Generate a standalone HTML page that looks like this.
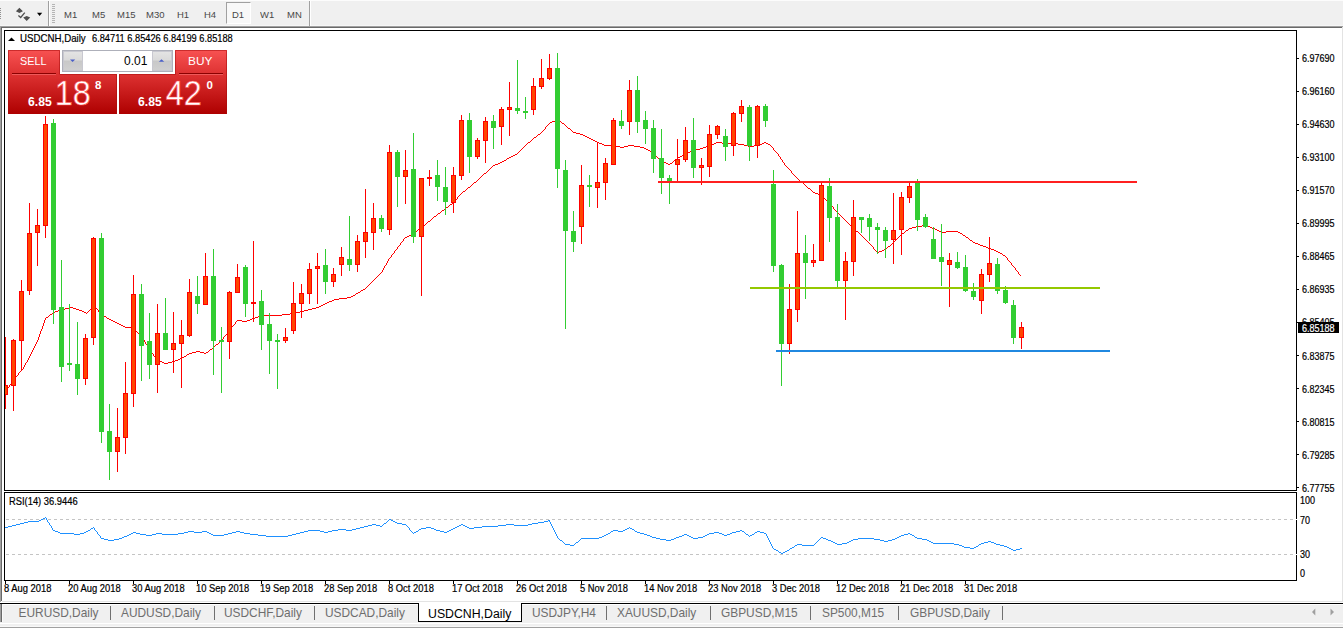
<!DOCTYPE html>
<html><head><meta charset="utf-8"><title>USDCNH,Daily</title>
<style>
html,body{margin:0;padding:0;background:#fff;}
body{width:1343px;height:629px;overflow:hidden;position:relative;font-family:"Liberation Sans",sans-serif;}
.a{position:absolute;white-space:nowrap;line-height:1;}
.tb{color:#484848;font-size:9.6px;top:9.9px;transform:scaleX(0.99);transform-origin:left top;}
.ax{font-size:10px;color:#000;-webkit-text-stroke:0.2px;left:1302px;transform:scaleX(0.9);transform-origin:left top;}
.dt{font-size:10px;color:#000;-webkit-text-stroke:0.2px;top:584.3px;transform:scaleX(0.937);transform-origin:left top;}
.tab{font-size:11.9px;color:#6e6e6e;top:608px;}
.sep{position:absolute;top:606px;width:1px;height:14px;background:#707070;}
svg{position:absolute;left:0;top:0;}
</style></head><body>

<div class="a" style="left:0;top:0;width:1343px;height:26px;background:#f0f0f0;"></div>
<div class="a" style="left:0;top:0;width:1343px;height:1px;background:#fcfcfc;"></div>
<div class="a" style="left:0;top:25px;width:1343px;height:1px;background:#f6f6f6;"></div>
<div class="a" style="left:0;top:26px;width:1343px;height:1px;background:#a0a0a0;"></div>
<div class="a" style="left:1px;top:27px;width:1341px;height:1px;background:#696969;"></div>
<div class="a" style="left:0;top:27px;width:1px;height:575px;background:#a0a0a0;"></div>
<div class="a" style="left:1px;top:27px;width:1px;height:574px;background:#696969;"></div>
<div class="a" style="left:1342px;top:27px;width:1px;height:575px;background:#e3e3e3;"></div>
<div class="a" style="left:2px;top:601px;width:1341px;height:1px;background:#e3e3e3;"></div>
<div class="a" style="left:0;top:602px;width:1343px;height:1px;background:#fff;"></div>
<div class="a" style="left:0;top:603px;width:1343px;height:1px;background:#000;"></div>
<div class="a" style="left:0;top:604px;width:1343px;height:1px;background:#fff;"></div>
<div class="a" style="left:0;top:605px;width:1343px;height:18px;background:#f0f0f0;"></div>
<div class="a" style="left:0;top:604px;width:1px;height:18px;background:#a0a0a0;"></div>
<div class="a" style="left:1px;top:604px;width:1px;height:18px;background:#696969;"></div>
<div class="a" style="left:2px;top:604px;width:1px;height:18px;background:#fafafa;"></div>
<div class="a" style="left:0;top:623px;width:1343px;height:1px;background:#fff;"></div>
<div class="a" style="left:0;top:624px;width:1343px;height:2px;background:#f0f0f0;"></div>
<div class="a" style="left:0;top:626px;width:1343px;height:1px;background:#f8f8f8;"></div>
<div class="a" style="left:0;top:627px;width:1343px;height:1px;background:#a0a0a0;"></div>
<div class="a" style="left:0;top:628px;width:1343px;height:1px;background:#fff;"></div>
<div class="a" style="left:418px;top:603px;width:102px;height:18px;background:#fff;border:1px solid #000;border-top:none;"></div>
<div class="a tab" style="left:18.6px;">EURUSD,Daily</div>
<div class="a tab" style="left:121px;">AUDUSD,Daily</div>
<div class="a tab" style="left:224px;">USDCHF,Daily</div>
<div class="a tab" style="left:325px;">USDCAD,Daily</div>
<div class="a tab" style="left:532px;">USDJPY,H4</div>
<div class="a tab" style="left:617px;">XAUUSD,Daily</div>
<div class="a tab" style="left:721px;">GBPUSD,M15</div>
<div class="a tab" style="left:822px;">SP500,M15</div>
<div class="a tab" style="left:910px;">GBPUSD,Daily</div>
<div class="a tab" style="left:428px;color:#000;font-size:12.3px;">USDCNH,Daily</div>
<div class="sep" style="left:110px;"></div>
<div class="sep" style="left:214px;"></div>
<div class="sep" style="left:314px;"></div>
<div class="sep" style="left:606px;"></div>
<div class="sep" style="left:710px;"></div>
<div class="sep" style="left:810px;"></div>
<div class="sep" style="left:898px;"></div>
<div class="sep" style="left:1002px;"></div>
<div class="a" style="left:226px;top:2px;width:25px;height:22px;border:1px solid #a0a0a0;border-right-color:#fff;border-bottom-color:#fff;background:#f8f8f8;box-sizing:border-box;"></div>
<div class="a tb" style="left:63.7px;">M1</div>
<div class="a tb" style="left:91.6px;">M5</div>
<div class="a tb" style="left:117.4px;">M15</div>
<div class="a tb" style="left:145.5px;">M30</div>
<div class="a tb" style="left:176.7px;">H1</div>
<div class="a tb" style="left:203.8px;">H4</div>
<div class="a tb" style="left:232.4px;">D1</div>
<div class="a tb" style="left:259.7px;">W1</div>
<div class="a tb" style="left:286.8px;">MN</div>
<div class="a ax" style="top:54.2px;">6.97690</div>
<div class="a ax" style="top:87.2px;">6.96160</div>
<div class="a ax" style="top:120.3px;">6.94630</div>
<div class="a ax" style="top:153.3px;">6.93100</div>
<div class="a ax" style="top:186.3px;">6.91570</div>
<div class="a ax" style="top:219.3px;">6.89995</div>
<div class="a ax" style="top:252.4px;">6.88465</div>
<div class="a ax" style="top:285.4px;">6.86935</div>
<div class="a ax" style="top:318.4px;">6.85405</div>
<div class="a ax" style="top:351.5px;">6.83875</div>
<div class="a ax" style="top:384.5px;">6.82345</div>
<div class="a ax" style="top:417.5px;">6.80815</div>
<div class="a ax" style="top:450.6px;">6.79285</div>
<div class="a ax" style="top:483.6px;">6.77755</div>
<div class="a" style="left:1298px;top:322px;width:41px;height:11px;background:#000;"></div>
<div class="a ax" style="top:323.7px;color:#fff;">6.85188</div>
<div class="a ax" style="left:1300px;top:495.6px;">100</div>
<div class="a ax" style="left:1300px;top:515.6px;">70</div>
<div class="a ax" style="left:1300px;top:550.2px;">30</div>
<div class="a ax" style="left:1300px;top:569.4px;">0</div>
<div class="a dt" style="left:3.6px;">8 Aug 2018</div>
<div class="a dt" style="left:67.6px;">20 Aug 2018</div>
<div class="a dt" style="left:131.6px;">30 Aug 2018</div>
<div class="a dt" style="left:195.6px;">10 Sep 2018</div>
<div class="a dt" style="left:259.6px;">19 Sep 2018</div>
<div class="a dt" style="left:323.6px;">28 Sep 2018</div>
<div class="a dt" style="left:387.6px;">8 Oct 2018</div>
<div class="a dt" style="left:451.6px;">17 Oct 2018</div>
<div class="a dt" style="left:515.6px;">26 Oct 2018</div>
<div class="a dt" style="left:579.6px;">5 Nov 2018</div>
<div class="a dt" style="left:643.6px;">14 Nov 2018</div>
<div class="a dt" style="left:707.6px;">23 Nov 2018</div>
<div class="a dt" style="left:771.6px;">3 Dec 2018</div>
<div class="a dt" style="left:835.6px;">12 Dec 2018</div>
<div class="a dt" style="left:899.6px;">21 Dec 2018</div>
<div class="a dt" style="left:963.6px;">31 Dec 2018</div>
<div class="a" style="left:19.9px;top:33.2px;font-size:10.6px;color:#000;transform:scaleX(0.915);transform-origin:left top;-webkit-text-stroke:0.2px #000;">USDCNH,Daily</div>
<div class="a" style="left:91.9px;top:34.1px;font-size:10px;color:#000;-webkit-text-stroke:0.2px #000;transform:scaleX(0.925);transform-origin:left top;">6.84711 6.85426 6.84199 6.85188</div>
<div class="a" style="left:9px;top:496.6px;font-size:10px;color:#000;-webkit-text-stroke:0.2px;transform:scaleX(0.935);transform-origin:left top;">RSI(14) 36.9446</div>
<svg width="1343" height="629" viewBox="0 0 1343 629">
<defs><linearGradient id="rg" gradientUnits="userSpaceOnUse" x1="0" y1="50" x2="0" y2="114"><stop offset="0" stop-color="#f85252"/><stop offset="0.4" stop-color="#dc3030"/><stop offset="1" stop-color="#ae0000"/></linearGradient>
<linearGradient id="gg" x1="0" y1="0" x2="0" y2="1"><stop offset="0" stop-color="#e4e4e4"/><stop offset="0.45" stop-color="#dadada"/><stop offset="0.5" stop-color="#c8c8c8"/><stop offset="1" stop-color="#d0d0d0"/></linearGradient></defs>
<g shape-rendering="crispEdges">
<rect x="4" y="30" width="1293" height="1" fill="#000"/>
<rect x="4" y="30" width="1" height="461" fill="#000"/>
<rect x="1296" y="30" width="1" height="461" fill="#000"/>
<rect x="4" y="490" width="1293" height="1" fill="#000"/>
<rect x="4" y="492" width="1293" height="1" fill="#000"/>
<rect x="4" y="492" width="1" height="89" fill="#000"/>
<rect x="1296" y="492" width="1" height="89" fill="#000"/>
<rect x="4" y="580" width="1293" height="1" fill="#000"/>
<rect x="1296" y="519" width="1" height="1" fill="#fff"/>
<rect x="1296" y="554" width="1" height="1" fill="#fff"/>
<rect x="1297" y="58" width="2" height="1" fill="#000"/>
<rect x="1297" y="91" width="2" height="1" fill="#000"/>
<rect x="1297" y="124" width="2" height="1" fill="#000"/>
<rect x="1297" y="157" width="2" height="1" fill="#000"/>
<rect x="1297" y="190" width="2" height="1" fill="#000"/>
<rect x="1297" y="223" width="2" height="1" fill="#000"/>
<rect x="1297" y="256" width="2" height="1" fill="#000"/>
<rect x="1297" y="289" width="2" height="1" fill="#000"/>
<rect x="1297" y="322" width="2" height="1" fill="#000"/>
<rect x="1297" y="355" width="2" height="1" fill="#000"/>
<rect x="1297" y="388" width="2" height="1" fill="#000"/>
<rect x="1297" y="421" width="2" height="1" fill="#000"/>
<rect x="1297" y="454" width="2" height="1" fill="#000"/>
<rect x="1297" y="487" width="2" height="1" fill="#000"/>
<rect x="1297" y="322" width="2" height="1" fill="#000"/>
<rect x="5" y="581" width="1" height="3" fill="#000"/>
<rect x="69" y="581" width="1" height="3" fill="#000"/>
<rect x="133" y="581" width="1" height="3" fill="#000"/>
<rect x="197" y="581" width="1" height="3" fill="#000"/>
<rect x="261" y="581" width="1" height="3" fill="#000"/>
<rect x="325" y="581" width="1" height="3" fill="#000"/>
<rect x="389" y="581" width="1" height="3" fill="#000"/>
<rect x="453" y="581" width="1" height="3" fill="#000"/>
<rect x="517" y="581" width="1" height="3" fill="#000"/>
<rect x="581" y="581" width="1" height="3" fill="#000"/>
<rect x="645" y="581" width="1" height="3" fill="#000"/>
<rect x="709" y="581" width="1" height="3" fill="#000"/>
<rect x="773" y="581" width="1" height="3" fill="#000"/>
<rect x="837" y="581" width="1" height="3" fill="#000"/>
<rect x="901" y="581" width="1" height="3" fill="#000"/>
<rect x="965" y="581" width="1" height="3" fill="#000"/>
<line x1="6" y1="519.5" x2="1296" y2="519.5" stroke="#c4c4c4" stroke-width="1" stroke-dasharray="3,3"/>
<line x1="6" y1="554.5" x2="1296" y2="554.5" stroke="#c4c4c4" stroke-width="1" stroke-dasharray="3,3"/>
<path d="M552 121h9v1h-9zM550 122h2v1h-2zM561 122h1v1h-1zM549 123h1v1h-1zM562 123h2v1h-2zM548 124h1v1h-1zM564 124h1v1h-1zM547 125h1v1h-1zM565 125h1v1h-1zM546 126h1v1h-1zM566 126h1v1h-1zM545 127h1v1h-1zM567 127h1v1h-1zM545 128h1v1h-1zM568 128h2v1h-2zM544 129h1v1h-1zM570 129h1v1h-1zM543 130h1v1h-1zM571 130h1v1h-1zM542 131h1v1h-1zM572 131h1v1h-1zM541 132h1v1h-1zM573 132h3v1h-3zM540 133h1v1h-1zM576 133h4v1h-4zM538 134h2v1h-2zM580 134h3v1h-3zM537 135h1v1h-1zM583 135h2v1h-2zM536 136h1v1h-1zM585 136h2v1h-2zM534 137h2v1h-2zM587 137h2v1h-2zM533 138h1v1h-1zM589 138h2v1h-2zM532 139h1v1h-1zM591 139h2v1h-2zM531 140h1v1h-1zM593 140h2v1h-2zM530 141h1v1h-1zM595 141h2v1h-2zM528 142h2v1h-2zM597 142h2v1h-2zM716 142h6v1h-6zM764 142h2v1h-2zM527 143h1v1h-1zM599 143h3v1h-3zM714 143h2v1h-2zM722 143h16v1h-16zM762 143h2v1h-2zM766 143h2v1h-2zM526 144h1v1h-1zM602 144h2v1h-2zM711 144h3v1h-3zM738 144h6v1h-6zM759 144h3v1h-3zM768 144h2v1h-2zM525 145h1v1h-1zM604 145h12v1h-12zM628 145h6v1h-6zM708 145h3v1h-3zM744 145h4v1h-4zM754 145h5v1h-5zM770 145h1v1h-1zM524 146h1v1h-1zM616 146h4v1h-4zM624 146h4v1h-4zM634 146h6v1h-6zM706 146h2v1h-2zM748 146h6v1h-6zM771 146h1v1h-1zM523 147h1v1h-1zM620 147h4v1h-4zM640 147h4v1h-4zM703 147h3v1h-3zM772 147h1v1h-1zM522 148h1v1h-1zM644 148h2v1h-2zM700 148h3v1h-3zM773 148h1v1h-1zM521 149h1v1h-1zM646 149h2v1h-2zM696 149h4v1h-4zM773 149h1v1h-1zM520 150h1v1h-1zM648 150h2v1h-2zM692 150h4v1h-4zM774 150h1v1h-1zM519 151h1v1h-1zM650 151h1v1h-1zM690 151h2v1h-2zM775 151h1v1h-1zM518 152h1v1h-1zM651 152h2v1h-2zM687 152h3v1h-3zM776 152h1v1h-1zM517 153h1v1h-1zM653 153h1v1h-1zM685 153h2v1h-2zM777 153h1v1h-1zM515 154h2v1h-2zM654 154h1v1h-1zM683 154h2v1h-2zM778 154h1v1h-1zM513 155h2v1h-2zM655 155h1v1h-1zM682 155h1v1h-1zM778 155h1v1h-1zM511 156h2v1h-2zM656 156h1v1h-1zM680 156h2v1h-2zM779 156h1v1h-1zM509 157h2v1h-2zM657 157h1v1h-1zM678 157h2v1h-2zM780 157h1v1h-1zM507 158h2v1h-2zM658 158h1v1h-1zM677 158h1v1h-1zM780 158h1v1h-1zM506 159h1v1h-1zM659 159h1v1h-1zM676 159h1v1h-1zM781 159h1v1h-1zM504 160h2v1h-2zM660 160h1v1h-1zM674 160h2v1h-2zM782 160h1v1h-1zM502 161h2v1h-2zM661 161h2v1h-2zM673 161h1v1h-1zM782 161h1v1h-1zM500 162h2v1h-2zM663 162h3v1h-3zM672 162h1v1h-1zM783 162h1v1h-1zM498 163h2v1h-2zM666 163h2v1h-2zM670 163h2v1h-2zM784 163h1v1h-1zM495 164h3v1h-3zM668 164h2v1h-2zM784 164h1v1h-1zM493 165h2v1h-2zM785 165h1v1h-1zM492 166h1v1h-1zM786 166h1v1h-1zM491 167h1v1h-1zM787 167h1v1h-1zM490 168h1v1h-1zM788 168h1v1h-1zM489 169h1v1h-1zM789 169h1v1h-1zM488 170h1v1h-1zM790 170h1v1h-1zM487 171h1v1h-1zM791 171h1v1h-1zM486 172h1v1h-1zM791 172h1v1h-1zM484 173h2v1h-2zM792 173h1v1h-1zM483 174h1v1h-1zM793 174h1v1h-1zM482 175h1v1h-1zM794 175h1v1h-1zM481 176h1v1h-1zM795 176h1v1h-1zM480 177h1v1h-1zM796 177h1v1h-1zM479 178h1v1h-1zM797 178h1v1h-1zM478 179h1v1h-1zM798 179h1v1h-1zM477 180h1v1h-1zM799 180h1v1h-1zM476 181h1v1h-1zM800 181h2v1h-2zM474 182h2v1h-2zM802 182h1v1h-1zM473 183h1v1h-1zM803 183h1v1h-1zM472 184h1v1h-1zM804 184h1v1h-1zM471 185h1v1h-1zM805 185h1v1h-1zM470 186h1v1h-1zM806 186h1v1h-1zM468 187h2v1h-2zM807 187h1v1h-1zM467 188h1v1h-1zM808 188h2v1h-2zM466 189h1v1h-1zM810 189h1v1h-1zM465 190h1v1h-1zM811 190h1v1h-1zM463 191h2v1h-2zM812 191h1v1h-1zM462 192h1v1h-1zM813 192h2v1h-2zM461 193h1v1h-1zM815 193h3v1h-3zM460 194h1v1h-1zM818 194h2v1h-2zM459 195h1v1h-1zM820 195h2v1h-2zM458 196h1v1h-1zM822 196h1v1h-1zM457 197h1v1h-1zM823 197h1v1h-1zM457 198h1v1h-1zM824 198h1v1h-1zM456 199h1v1h-1zM825 199h1v1h-1zM455 200h1v1h-1zM826 200h1v1h-1zM454 201h1v1h-1zM827 201h1v1h-1zM453 202h1v1h-1zM828 202h1v1h-1zM452 203h1v1h-1zM829 203h1v1h-1zM450 204h2v1h-2zM830 204h1v1h-1zM449 205h1v1h-1zM831 205h1v1h-1zM448 206h1v1h-1zM832 206h1v1h-1zM446 207h2v1h-2zM833 207h1v1h-1zM445 208h1v1h-1zM833 208h1v1h-1zM444 209h1v1h-1zM834 209h1v1h-1zM442 210h2v1h-2zM835 210h1v1h-1zM441 211h1v1h-1zM836 211h1v1h-1zM440 212h1v1h-1zM837 212h1v1h-1zM438 213h2v1h-2zM838 213h1v1h-1zM437 214h1v1h-1zM839 214h1v1h-1zM436 215h1v1h-1zM840 215h1v1h-1zM434 216h2v1h-2zM841 216h1v1h-1zM433 217h1v1h-1zM842 217h1v1h-1zM432 218h1v1h-1zM843 218h1v1h-1zM431 219h1v1h-1zM844 219h1v1h-1zM430 220h1v1h-1zM845 220h1v1h-1zM428 221h2v1h-2zM846 221h1v1h-1zM427 222h1v1h-1zM847 222h1v1h-1zM426 223h1v1h-1zM848 223h1v1h-1zM425 224h1v1h-1zM849 224h1v1h-1zM423 225h2v1h-2zM850 225h1v1h-1zM922 225h5v1h-5zM422 226h1v1h-1zM851 226h1v1h-1zM916 226h6v1h-6zM927 226h3v1h-3zM421 227h1v1h-1zM852 227h1v1h-1zM912 227h4v1h-4zM930 227h2v1h-2zM420 228h1v1h-1zM853 228h1v1h-1zM909 228h3v1h-3zM932 228h3v1h-3zM418 229h2v1h-2zM854 229h1v1h-1zM908 229h1v1h-1zM935 229h2v1h-2zM417 230h1v1h-1zM855 230h1v1h-1zM906 230h2v1h-2zM937 230h2v1h-2zM416 231h1v1h-1zM856 231h2v1h-2zM905 231h1v1h-1zM939 231h2v1h-2zM946 231h12v1h-12zM414 232h2v1h-2zM858 232h1v1h-1zM904 232h1v1h-1zM941 232h5v1h-5zM958 232h2v1h-2zM413 233h1v1h-1zM859 233h1v1h-1zM902 233h2v1h-2zM960 233h2v1h-2zM411 234h2v1h-2zM860 234h1v1h-1zM901 234h1v1h-1zM962 234h1v1h-1zM409 235h2v1h-2zM861 235h1v1h-1zM900 235h1v1h-1zM963 235h2v1h-2zM407 236h2v1h-2zM862 236h1v1h-1zM899 236h1v1h-1zM965 236h1v1h-1zM405 237h2v1h-2zM863 237h1v1h-1zM898 237h1v1h-1zM966 237h2v1h-2zM404 238h1v1h-1zM864 238h1v1h-1zM897 238h1v1h-1zM968 238h1v1h-1zM403 239h1v1h-1zM865 239h1v1h-1zM896 239h1v1h-1zM969 239h1v1h-1zM403 240h1v1h-1zM866 240h1v1h-1zM895 240h1v1h-1zM970 240h2v1h-2zM402 241h1v1h-1zM867 241h1v1h-1zM894 241h1v1h-1zM972 241h1v1h-1zM401 242h1v1h-1zM868 242h1v1h-1zM893 242h1v1h-1zM973 242h2v1h-2zM400 243h1v1h-1zM869 243h1v1h-1zM892 243h1v1h-1zM975 243h3v1h-3zM400 244h1v1h-1zM870 244h1v1h-1zM891 244h1v1h-1zM978 244h2v1h-2zM399 245h1v1h-1zM871 245h1v1h-1zM890 245h1v1h-1zM980 245h3v1h-3zM398 246h1v1h-1zM872 246h1v1h-1zM888 246h2v1h-2zM983 246h3v1h-3zM397 247h1v1h-1zM873 247h1v1h-1zM887 247h1v1h-1zM986 247h2v1h-2zM397 248h1v1h-1zM873 248h1v1h-1zM886 248h1v1h-1zM988 248h3v1h-3zM396 249h1v1h-1zM874 249h1v1h-1zM884 249h2v1h-2zM991 249h3v1h-3zM395 250h1v1h-1zM875 250h1v1h-1zM882 250h2v1h-2zM994 250h2v1h-2zM394 251h1v1h-1zM876 251h1v1h-1zM879 251h3v1h-3zM996 251h2v1h-2zM394 252h1v1h-1zM877 252h2v1h-2zM998 252h2v1h-2zM393 253h1v1h-1zM1000 253h2v1h-2zM392 254h1v1h-1zM1002 254h1v1h-1zM391 255h1v1h-1zM1003 255h2v1h-2zM391 256h1v1h-1zM1005 256h1v1h-1zM390 257h1v1h-1zM1006 257h1v1h-1zM389 258h1v1h-1zM1007 258h1v1h-1zM388 259h1v1h-1zM1007 259h1v1h-1zM388 260h1v1h-1zM1008 260h1v1h-1zM387 261h1v1h-1zM1009 261h1v1h-1zM387 262h1v1h-1zM1010 262h1v1h-1zM386 263h1v1h-1zM1011 263h1v1h-1zM386 264h1v1h-1zM1011 264h1v1h-1zM385 265h1v1h-1zM1012 265h1v1h-1zM384 266h1v1h-1zM1013 266h1v1h-1zM384 267h1v1h-1zM1014 267h1v1h-1zM383 268h1v1h-1zM1015 268h1v1h-1zM383 269h1v1h-1zM1015 269h1v1h-1zM382 270h1v1h-1zM1016 270h1v1h-1zM382 271h1v1h-1zM1017 271h1v1h-1zM381 272h1v1h-1zM1018 272h1v1h-1zM380 273h1v1h-1zM1018 273h1v1h-1zM379 274h1v1h-1zM1019 274h1v1h-1zM378 275h1v1h-1zM1020 275h1v1h-1zM377 276h1v1h-1zM376 277h1v1h-1zM375 278h1v1h-1zM374 279h1v1h-1zM373 280h1v1h-1zM372 281h1v1h-1zM371 282h1v1h-1zM370 283h1v1h-1zM369 284h1v1h-1zM368 285h1v1h-1zM367 286h1v1h-1zM366 287h1v1h-1zM365 288h1v1h-1zM363 289h2v1h-2zM361 290h2v1h-2zM360 291h1v1h-1zM358 292h2v1h-2zM356 293h2v1h-2zM355 294h1v1h-1zM353 295h2v1h-2zM351 296h2v1h-2zM347 297h4v1h-4zM339 298h8v1h-8zM334 299h5v1h-5zM332 300h2v1h-2zM329 301h3v1h-3zM327 302h2v1h-2zM325 303h2v1h-2zM323 304h2v1h-2zM321 305h2v1h-2zM319 306h2v1h-2zM69 307h4v1h-4zM316 307h3v1h-3zM65 308h4v1h-4zM73 308h3v1h-3zM91 308h6v1h-6zM312 308h4v1h-4zM61 309h4v1h-4zM76 309h3v1h-3zM90 309h1v1h-1zM97 309h1v1h-1zM308 309h4v1h-4zM58 310h3v1h-3zM79 310h3v1h-3zM89 310h1v1h-1zM98 310h1v1h-1zM304 310h4v1h-4zM55 311h3v1h-3zM82 311h2v1h-2zM88 311h1v1h-1zM98 311h1v1h-1zM300 311h4v1h-4zM53 312h2v1h-2zM84 312h2v1h-2zM87 312h1v1h-1zM99 312h1v1h-1zM296 312h4v1h-4zM52 313h1v1h-1zM86 313h1v1h-1zM100 313h1v1h-1zM290 313h6v1h-6zM50 314h2v1h-2zM101 314h1v1h-1zM282 314h8v1h-8zM49 315h1v1h-1zM102 315h2v1h-2zM260 315h22v1h-22zM48 316h1v1h-1zM104 316h2v1h-2zM258 316h2v1h-2zM46 317h2v1h-2zM106 317h1v1h-1zM255 317h3v1h-3zM45 318h1v1h-1zM107 318h2v1h-2zM252 318h3v1h-3zM45 319h1v1h-1zM109 319h2v1h-2zM250 319h2v1h-2zM44 320h1v1h-1zM111 320h2v1h-2zM237 320h5v1h-5zM247 320h3v1h-3zM44 321h1v1h-1zM113 321h2v1h-2zM236 321h1v1h-1zM242 321h5v1h-5zM44 322h1v1h-1zM115 322h2v1h-2zM235 322h1v1h-1zM43 323h1v1h-1zM117 323h2v1h-2zM235 323h1v1h-1zM43 324h1v1h-1zM119 324h2v1h-2zM234 324h1v1h-1zM43 325h1v1h-1zM121 325h2v1h-2zM233 325h1v1h-1zM42 326h1v1h-1zM123 326h2v1h-2zM232 326h1v1h-1zM42 327h1v1h-1zM125 327h8v1h-8zM231 327h1v1h-1zM42 328h1v1h-1zM133 328h1v1h-1zM231 328h1v1h-1zM41 329h1v1h-1zM134 329h1v1h-1zM230 329h1v1h-1zM41 330h1v1h-1zM135 330h1v1h-1zM229 330h1v1h-1zM40 331h1v1h-1zM136 331h1v1h-1zM228 331h1v1h-1zM40 332h1v1h-1zM137 332h1v1h-1zM227 332h1v1h-1zM40 333h1v1h-1zM138 333h1v1h-1zM227 333h1v1h-1zM39 334h1v1h-1zM139 334h1v1h-1zM226 334h1v1h-1zM39 335h1v1h-1zM140 335h1v1h-1zM225 335h1v1h-1zM39 336h1v1h-1zM141 336h1v1h-1zM224 336h1v1h-1zM38 337h1v1h-1zM142 337h1v1h-1zM223 337h1v1h-1zM38 338h1v1h-1zM142 338h1v1h-1zM223 338h1v1h-1zM38 339h1v1h-1zM143 339h1v1h-1zM222 339h1v1h-1zM37 340h1v1h-1zM144 340h1v1h-1zM221 340h1v1h-1zM37 341h1v1h-1zM144 341h1v1h-1zM220 341h1v1h-1zM36 342h1v1h-1zM145 342h1v1h-1zM219 342h1v1h-1zM36 343h1v1h-1zM145 343h1v1h-1zM218 343h1v1h-1zM35 344h1v1h-1zM146 344h1v1h-1zM216 344h2v1h-2zM35 345h1v1h-1zM147 345h1v1h-1zM215 345h1v1h-1zM34 346h1v1h-1zM147 346h1v1h-1zM214 346h1v1h-1zM34 347h1v1h-1zM148 347h1v1h-1zM213 347h1v1h-1zM33 348h1v1h-1zM149 348h1v1h-1zM212 348h1v1h-1zM33 349h1v1h-1zM149 349h1v1h-1zM210 349h2v1h-2zM32 350h1v1h-1zM150 350h1v1h-1zM209 350h1v1h-1zM32 351h1v1h-1zM151 351h1v1h-1zM196 351h4v1h-4zM208 351h1v1h-1zM31 352h1v1h-1zM151 352h1v1h-1zM192 352h4v1h-4zM200 352h4v1h-4zM206 352h2v1h-2zM31 353h1v1h-1zM152 353h1v1h-1zM189 353h3v1h-3zM204 353h2v1h-2zM30 354h1v1h-1zM153 354h1v1h-1zM187 354h2v1h-2zM30 355h1v1h-1zM153 355h1v1h-1zM186 355h1v1h-1zM29 356h1v1h-1zM154 356h1v1h-1zM184 356h2v1h-2zM29 357h1v1h-1zM155 357h1v1h-1zM182 357h2v1h-2zM28 358h1v1h-1zM156 358h1v1h-1zM180 358h2v1h-2zM28 359h1v1h-1zM156 359h1v1h-1zM178 359h2v1h-2zM27 360h1v1h-1zM157 360h2v1h-2zM175 360h3v1h-3zM27 361h1v1h-1zM159 361h3v1h-3zM172 361h3v1h-3zM26 362h1v1h-1zM162 362h2v1h-2zM168 362h4v1h-4zM25 363h1v1h-1zM164 363h4v1h-4zM25 364h1v1h-1zM24 365h1v1h-1zM24 366h1v1h-1zM23 367h1v1h-1zM23 368h1v1h-1zM22 369h1v1h-1zM21 370h1v1h-1zM20 371h1v1h-1zM19 372h1v1h-1zM18 373h1v1h-1zM18 374h1v1h-1zM17 375h1v1h-1zM16 376h1v1h-1zM15 377h1v1h-1zM14 378h1v1h-1zM14 379h1v1h-1zM13 380h1v1h-1zM12 381h1v1h-1zM11 382h1v1h-1zM11 383h1v1h-1zM10 384h1v1h-1zM9 385h1v1h-1zM9 386h1v1h-1zM8 387h1v1h-1zM7 388h1v1h-1zM6 389h1v1h-1zM6 390h1v1h-1zM5 391h1v1h-1z" fill="#ff0000"/>
<rect x="5" y="337" width="1" height="72" fill="#ff0000"/>
<rect x="3" y="385" width="5" height="10" fill="#ff0000"/>
<rect x="4" y="386" width="3" height="8" fill="#ff4500"/>
<rect x="13" y="339" width="1" height="72" fill="#ff0000"/>
<rect x="11" y="340" width="5" height="46" fill="#ff0000"/>
<rect x="12" y="341" width="3" height="44" fill="#ff4500"/>
<rect x="21" y="280" width="1" height="91" fill="#ff0000"/>
<rect x="19" y="291" width="5" height="50" fill="#ff0000"/>
<rect x="20" y="292" width="3" height="48" fill="#ff4500"/>
<rect x="29" y="203" width="1" height="92" fill="#ff0000"/>
<rect x="27" y="233" width="5" height="58" fill="#ff0000"/>
<rect x="28" y="234" width="3" height="56" fill="#ff4500"/>
<rect x="37" y="209" width="1" height="57" fill="#ff0000"/>
<rect x="35" y="225" width="5" height="8" fill="#ff0000"/>
<rect x="36" y="226" width="3" height="6" fill="#ff4500"/>
<rect x="45" y="116" width="1" height="122" fill="#ff0000"/>
<rect x="43" y="124" width="5" height="102" fill="#ff0000"/>
<rect x="44" y="125" width="3" height="100" fill="#ff4500"/>
<rect x="53" y="119" width="1" height="205" fill="#32cd32"/>
<rect x="51" y="123" width="5" height="187" fill="#32cd32"/>
<rect x="61" y="260" width="1" height="122" fill="#32cd32"/>
<rect x="59" y="307" width="5" height="60" fill="#32cd32"/>
<rect x="69" y="304" width="1" height="67" fill="#32cd32"/>
<rect x="67" y="363" width="5" height="2" fill="#32cd32"/>
<rect x="77" y="322" width="1" height="73" fill="#32cd32"/>
<rect x="75" y="364" width="5" height="15" fill="#32cd32"/>
<rect x="85" y="334" width="1" height="51" fill="#ff0000"/>
<rect x="83" y="338" width="5" height="41" fill="#ff0000"/>
<rect x="84" y="339" width="3" height="39" fill="#ff4500"/>
<rect x="93" y="237" width="1" height="108" fill="#ff0000"/>
<rect x="91" y="238" width="5" height="100" fill="#ff0000"/>
<rect x="92" y="239" width="3" height="98" fill="#ff4500"/>
<rect x="101" y="233" width="1" height="210" fill="#32cd32"/>
<rect x="99" y="238" width="5" height="194" fill="#32cd32"/>
<rect x="109" y="404" width="1" height="76" fill="#32cd32"/>
<rect x="107" y="431" width="5" height="21" fill="#32cd32"/>
<rect x="117" y="408" width="1" height="64" fill="#ff0000"/>
<rect x="115" y="437" width="5" height="15" fill="#ff0000"/>
<rect x="116" y="438" width="3" height="13" fill="#ff4500"/>
<rect x="125" y="362" width="1" height="92" fill="#ff0000"/>
<rect x="123" y="393" width="5" height="45" fill="#ff0000"/>
<rect x="124" y="394" width="3" height="43" fill="#ff4500"/>
<rect x="133" y="275" width="1" height="132" fill="#ff0000"/>
<rect x="131" y="294" width="5" height="100" fill="#ff0000"/>
<rect x="132" y="295" width="3" height="98" fill="#ff4500"/>
<rect x="141" y="284" width="1" height="97" fill="#32cd32"/>
<rect x="139" y="294" width="5" height="52" fill="#32cd32"/>
<rect x="149" y="313" width="1" height="66" fill="#32cd32"/>
<rect x="147" y="341" width="5" height="24" fill="#32cd32"/>
<rect x="157" y="304" width="1" height="89" fill="#ff0000"/>
<rect x="155" y="333" width="5" height="32" fill="#ff0000"/>
<rect x="156" y="334" width="3" height="30" fill="#ff4500"/>
<rect x="165" y="298" width="1" height="52" fill="#32cd32"/>
<rect x="163" y="333" width="5" height="17" fill="#32cd32"/>
<rect x="173" y="312" width="1" height="61" fill="#ff0000"/>
<rect x="171" y="343" width="5" height="7" fill="#ff0000"/>
<rect x="172" y="344" width="3" height="5" fill="#ff4500"/>
<rect x="181" y="320" width="1" height="68" fill="#ff0000"/>
<rect x="179" y="335" width="5" height="9" fill="#ff0000"/>
<rect x="180" y="336" width="3" height="7" fill="#ff4500"/>
<rect x="189" y="279" width="1" height="58" fill="#ff0000"/>
<rect x="187" y="292" width="5" height="44" fill="#ff0000"/>
<rect x="188" y="293" width="3" height="42" fill="#ff4500"/>
<rect x="197" y="276" width="1" height="38" fill="#32cd32"/>
<rect x="195" y="296" width="5" height="8" fill="#32cd32"/>
<rect x="205" y="253" width="1" height="52" fill="#ff0000"/>
<rect x="203" y="276" width="5" height="29" fill="#ff0000"/>
<rect x="204" y="277" width="3" height="27" fill="#ff4500"/>
<rect x="213" y="249" width="1" height="126" fill="#32cd32"/>
<rect x="211" y="276" width="5" height="65" fill="#32cd32"/>
<rect x="221" y="327" width="1" height="66" fill="#32cd32"/>
<rect x="219" y="340" width="5" height="2" fill="#32cd32"/>
<rect x="229" y="291" width="1" height="68" fill="#ff0000"/>
<rect x="227" y="292" width="5" height="50" fill="#ff0000"/>
<rect x="228" y="293" width="3" height="48" fill="#ff4500"/>
<rect x="237" y="264" width="1" height="29" fill="#ff0000"/>
<rect x="235" y="277" width="5" height="16" fill="#ff0000"/>
<rect x="236" y="278" width="3" height="14" fill="#ff4500"/>
<rect x="245" y="265" width="1" height="52" fill="#32cd32"/>
<rect x="243" y="267" width="5" height="37" fill="#32cd32"/>
<rect x="253" y="241" width="1" height="81" fill="#ff0000"/>
<rect x="251" y="302" width="5" height="2" fill="#ff0000"/>
<rect x="261" y="290" width="1" height="60" fill="#32cd32"/>
<rect x="259" y="301" width="5" height="24" fill="#32cd32"/>
<rect x="269" y="313" width="1" height="61" fill="#32cd32"/>
<rect x="267" y="324" width="5" height="17" fill="#32cd32"/>
<rect x="277" y="334" width="1" height="55" fill="#32cd32"/>
<rect x="275" y="340" width="5" height="2" fill="#32cd32"/>
<rect x="285" y="328" width="1" height="15" fill="#ff0000"/>
<rect x="283" y="337" width="5" height="4" fill="#ff0000"/>
<rect x="284" y="338" width="3" height="2" fill="#ff4500"/>
<rect x="293" y="282" width="1" height="52" fill="#ff0000"/>
<rect x="291" y="303" width="5" height="28" fill="#ff0000"/>
<rect x="292" y="304" width="3" height="26" fill="#ff4500"/>
<rect x="301" y="284" width="1" height="34" fill="#ff0000"/>
<rect x="299" y="293" width="5" height="11" fill="#ff0000"/>
<rect x="300" y="294" width="3" height="9" fill="#ff4500"/>
<rect x="309" y="263" width="1" height="41" fill="#ff0000"/>
<rect x="307" y="269" width="5" height="25" fill="#ff0000"/>
<rect x="308" y="270" width="3" height="23" fill="#ff4500"/>
<rect x="317" y="253" width="1" height="51" fill="#ff0000"/>
<rect x="315" y="266" width="5" height="3" fill="#ff0000"/>
<rect x="316" y="267" width="3" height="1" fill="#ff4500"/>
<rect x="325" y="249" width="1" height="45" fill="#32cd32"/>
<rect x="323" y="265" width="5" height="17" fill="#32cd32"/>
<rect x="333" y="268" width="1" height="19" fill="#ff0000"/>
<rect x="331" y="274" width="5" height="8" fill="#ff0000"/>
<rect x="332" y="275" width="3" height="6" fill="#ff4500"/>
<rect x="341" y="247" width="1" height="29" fill="#ff0000"/>
<rect x="339" y="257" width="5" height="8" fill="#ff0000"/>
<rect x="340" y="258" width="3" height="6" fill="#ff4500"/>
<rect x="349" y="216" width="1" height="55" fill="#32cd32"/>
<rect x="347" y="259" width="5" height="6" fill="#32cd32"/>
<rect x="357" y="235" width="1" height="37" fill="#ff0000"/>
<rect x="355" y="241" width="5" height="24" fill="#ff0000"/>
<rect x="356" y="242" width="3" height="22" fill="#ff4500"/>
<rect x="365" y="189" width="1" height="69" fill="#ff0000"/>
<rect x="363" y="232" width="5" height="10" fill="#ff0000"/>
<rect x="364" y="233" width="3" height="8" fill="#ff4500"/>
<rect x="373" y="203" width="1" height="47" fill="#ff0000"/>
<rect x="371" y="218" width="5" height="15" fill="#ff0000"/>
<rect x="372" y="219" width="3" height="13" fill="#ff4500"/>
<rect x="381" y="215" width="1" height="17" fill="#32cd32"/>
<rect x="379" y="218" width="5" height="11" fill="#32cd32"/>
<rect x="389" y="145" width="1" height="90" fill="#ff0000"/>
<rect x="387" y="152" width="5" height="78" fill="#ff0000"/>
<rect x="388" y="153" width="3" height="76" fill="#ff4500"/>
<rect x="397" y="150" width="1" height="57" fill="#32cd32"/>
<rect x="395" y="152" width="5" height="25" fill="#32cd32"/>
<rect x="405" y="150" width="1" height="54" fill="#ff0000"/>
<rect x="403" y="170" width="5" height="7" fill="#ff0000"/>
<rect x="404" y="171" width="3" height="5" fill="#ff4500"/>
<rect x="413" y="133" width="1" height="110" fill="#32cd32"/>
<rect x="411" y="169" width="5" height="68" fill="#32cd32"/>
<rect x="421" y="178" width="1" height="118" fill="#ff0000"/>
<rect x="419" y="178" width="5" height="59" fill="#ff0000"/>
<rect x="420" y="179" width="3" height="57" fill="#ff4500"/>
<rect x="429" y="170" width="1" height="16" fill="#ff0000"/>
<rect x="427" y="177" width="5" height="2" fill="#ff0000"/>
<rect x="437" y="160" width="1" height="41" fill="#32cd32"/>
<rect x="435" y="175" width="5" height="12" fill="#32cd32"/>
<rect x="445" y="167" width="1" height="48" fill="#32cd32"/>
<rect x="443" y="187" width="5" height="15" fill="#32cd32"/>
<rect x="453" y="167" width="1" height="46" fill="#ff0000"/>
<rect x="451" y="175" width="5" height="28" fill="#ff0000"/>
<rect x="452" y="176" width="3" height="26" fill="#ff4500"/>
<rect x="461" y="115" width="1" height="65" fill="#ff0000"/>
<rect x="459" y="120" width="5" height="56" fill="#ff0000"/>
<rect x="460" y="121" width="3" height="54" fill="#ff4500"/>
<rect x="469" y="113" width="1" height="60" fill="#32cd32"/>
<rect x="467" y="120" width="5" height="37" fill="#32cd32"/>
<rect x="477" y="138" width="1" height="21" fill="#ff0000"/>
<rect x="475" y="140" width="5" height="17" fill="#ff0000"/>
<rect x="476" y="141" width="3" height="15" fill="#ff4500"/>
<rect x="485" y="117" width="1" height="46" fill="#ff0000"/>
<rect x="483" y="121" width="5" height="20" fill="#ff0000"/>
<rect x="484" y="122" width="3" height="18" fill="#ff4500"/>
<rect x="493" y="115" width="1" height="34" fill="#32cd32"/>
<rect x="491" y="121" width="5" height="7" fill="#32cd32"/>
<rect x="501" y="107" width="1" height="38" fill="#ff0000"/>
<rect x="499" y="109" width="5" height="18" fill="#ff0000"/>
<rect x="500" y="110" width="3" height="16" fill="#ff4500"/>
<rect x="509" y="82" width="1" height="54" fill="#ff0000"/>
<rect x="507" y="107" width="5" height="3" fill="#ff0000"/>
<rect x="508" y="108" width="3" height="1" fill="#ff4500"/>
<rect x="517" y="60" width="1" height="54" fill="#32cd32"/>
<rect x="515" y="108" width="5" height="3" fill="#32cd32"/>
<rect x="525" y="97" width="1" height="22" fill="#32cd32"/>
<rect x="523" y="111" width="5" height="2" fill="#32cd32"/>
<rect x="533" y="78" width="1" height="37" fill="#ff0000"/>
<rect x="531" y="86" width="5" height="24" fill="#ff0000"/>
<rect x="532" y="87" width="3" height="22" fill="#ff4500"/>
<rect x="541" y="59" width="1" height="30" fill="#ff0000"/>
<rect x="539" y="78" width="5" height="9" fill="#ff0000"/>
<rect x="540" y="79" width="3" height="7" fill="#ff4500"/>
<rect x="549" y="54" width="1" height="26" fill="#ff0000"/>
<rect x="547" y="68" width="5" height="11" fill="#ff0000"/>
<rect x="548" y="69" width="3" height="9" fill="#ff4500"/>
<rect x="557" y="53" width="1" height="135" fill="#32cd32"/>
<rect x="555" y="68" width="5" height="101" fill="#32cd32"/>
<rect x="565" y="160" width="1" height="169" fill="#32cd32"/>
<rect x="563" y="170" width="5" height="61" fill="#32cd32"/>
<rect x="573" y="211" width="1" height="41" fill="#32cd32"/>
<rect x="571" y="231" width="5" height="11" fill="#32cd32"/>
<rect x="581" y="165" width="1" height="79" fill="#ff0000"/>
<rect x="579" y="185" width="5" height="42" fill="#ff0000"/>
<rect x="580" y="186" width="3" height="40" fill="#ff4500"/>
<rect x="589" y="175" width="1" height="32" fill="#32cd32"/>
<rect x="587" y="185" width="5" height="2" fill="#32cd32"/>
<rect x="597" y="142" width="1" height="66" fill="#ff0000"/>
<rect x="595" y="182" width="5" height="6" fill="#ff0000"/>
<rect x="596" y="183" width="3" height="4" fill="#ff4500"/>
<rect x="605" y="158" width="1" height="42" fill="#ff0000"/>
<rect x="603" y="163" width="5" height="20" fill="#ff0000"/>
<rect x="604" y="164" width="3" height="18" fill="#ff4500"/>
<rect x="613" y="118" width="1" height="47" fill="#ff0000"/>
<rect x="611" y="120" width="5" height="45" fill="#ff0000"/>
<rect x="612" y="121" width="3" height="43" fill="#ff4500"/>
<rect x="621" y="110" width="1" height="19" fill="#32cd32"/>
<rect x="619" y="121" width="5" height="5" fill="#32cd32"/>
<rect x="629" y="80" width="1" height="55" fill="#ff0000"/>
<rect x="627" y="90" width="5" height="32" fill="#ff0000"/>
<rect x="628" y="91" width="3" height="30" fill="#ff4500"/>
<rect x="637" y="76" width="1" height="57" fill="#32cd32"/>
<rect x="635" y="90" width="5" height="32" fill="#32cd32"/>
<rect x="645" y="111" width="1" height="33" fill="#32cd32"/>
<rect x="643" y="120" width="5" height="9" fill="#32cd32"/>
<rect x="653" y="120" width="1" height="53" fill="#32cd32"/>
<rect x="651" y="128" width="5" height="31" fill="#32cd32"/>
<rect x="661" y="129" width="1" height="65" fill="#32cd32"/>
<rect x="659" y="158" width="5" height="20" fill="#32cd32"/>
<rect x="669" y="175" width="1" height="29" fill="#32cd32"/>
<rect x="667" y="178" width="5" height="4" fill="#32cd32"/>
<rect x="677" y="139" width="1" height="43" fill="#ff0000"/>
<rect x="675" y="159" width="5" height="6" fill="#ff0000"/>
<rect x="676" y="160" width="3" height="4" fill="#ff4500"/>
<rect x="685" y="127" width="1" height="35" fill="#ff0000"/>
<rect x="683" y="140" width="5" height="20" fill="#ff0000"/>
<rect x="684" y="141" width="3" height="18" fill="#ff4500"/>
<rect x="693" y="118" width="1" height="60" fill="#32cd32"/>
<rect x="691" y="140" width="5" height="28" fill="#32cd32"/>
<rect x="701" y="158" width="1" height="27" fill="#ff0000"/>
<rect x="699" y="165" width="5" height="3" fill="#ff0000"/>
<rect x="700" y="166" width="3" height="1" fill="#ff4500"/>
<rect x="709" y="125" width="1" height="52" fill="#ff0000"/>
<rect x="707" y="134" width="5" height="33" fill="#ff0000"/>
<rect x="708" y="135" width="3" height="31" fill="#ff4500"/>
<rect x="717" y="125" width="1" height="14" fill="#ff0000"/>
<rect x="715" y="126" width="5" height="9" fill="#ff0000"/>
<rect x="716" y="127" width="3" height="7" fill="#ff4500"/>
<rect x="725" y="129" width="1" height="32" fill="#32cd32"/>
<rect x="723" y="136" width="5" height="11" fill="#32cd32"/>
<rect x="733" y="112" width="1" height="44" fill="#ff0000"/>
<rect x="731" y="113" width="5" height="33" fill="#ff0000"/>
<rect x="732" y="114" width="3" height="31" fill="#ff4500"/>
<rect x="741" y="100" width="1" height="22" fill="#ff0000"/>
<rect x="739" y="106" width="5" height="8" fill="#ff0000"/>
<rect x="740" y="107" width="3" height="6" fill="#ff4500"/>
<rect x="749" y="105" width="1" height="56" fill="#32cd32"/>
<rect x="747" y="107" width="5" height="39" fill="#32cd32"/>
<rect x="757" y="105" width="1" height="53" fill="#ff0000"/>
<rect x="755" y="106" width="5" height="40" fill="#ff0000"/>
<rect x="756" y="107" width="3" height="38" fill="#ff4500"/>
<rect x="765" y="104" width="1" height="23" fill="#32cd32"/>
<rect x="763" y="106" width="5" height="15" fill="#32cd32"/>
<rect x="773" y="170" width="1" height="102" fill="#32cd32"/>
<rect x="771" y="184" width="5" height="82" fill="#32cd32"/>
<rect x="781" y="264" width="1" height="122" fill="#32cd32"/>
<rect x="779" y="265" width="5" height="79" fill="#32cd32"/>
<rect x="789" y="284" width="1" height="70" fill="#ff0000"/>
<rect x="787" y="309" width="5" height="35" fill="#ff0000"/>
<rect x="788" y="310" width="3" height="33" fill="#ff4500"/>
<rect x="797" y="211" width="1" height="111" fill="#ff0000"/>
<rect x="795" y="253" width="5" height="57" fill="#ff0000"/>
<rect x="796" y="254" width="3" height="55" fill="#ff4500"/>
<rect x="805" y="235" width="1" height="64" fill="#32cd32"/>
<rect x="803" y="253" width="5" height="10" fill="#32cd32"/>
<rect x="813" y="244" width="1" height="23" fill="#ff0000"/>
<rect x="811" y="260" width="5" height="3" fill="#ff0000"/>
<rect x="812" y="261" width="3" height="1" fill="#ff4500"/>
<rect x="821" y="183" width="1" height="78" fill="#ff0000"/>
<rect x="819" y="185" width="5" height="76" fill="#ff0000"/>
<rect x="820" y="186" width="3" height="74" fill="#ff4500"/>
<rect x="829" y="178" width="1" height="64" fill="#32cd32"/>
<rect x="827" y="186" width="5" height="32" fill="#32cd32"/>
<rect x="837" y="204" width="1" height="83" fill="#32cd32"/>
<rect x="835" y="217" width="5" height="64" fill="#32cd32"/>
<rect x="845" y="252" width="1" height="68" fill="#ff0000"/>
<rect x="843" y="261" width="5" height="20" fill="#ff0000"/>
<rect x="844" y="262" width="3" height="18" fill="#ff4500"/>
<rect x="853" y="200" width="1" height="76" fill="#ff0000"/>
<rect x="851" y="217" width="5" height="45" fill="#ff0000"/>
<rect x="852" y="218" width="3" height="43" fill="#ff4500"/>
<rect x="861" y="217" width="1" height="16" fill="#32cd32"/>
<rect x="859" y="217" width="5" height="3" fill="#32cd32"/>
<rect x="869" y="214" width="1" height="27" fill="#32cd32"/>
<rect x="867" y="218" width="5" height="9" fill="#32cd32"/>
<rect x="877" y="223" width="1" height="31" fill="#32cd32"/>
<rect x="875" y="227" width="5" height="3" fill="#32cd32"/>
<rect x="885" y="227" width="1" height="31" fill="#32cd32"/>
<rect x="883" y="230" width="5" height="11" fill="#32cd32"/>
<rect x="893" y="193" width="1" height="71" fill="#ff0000"/>
<rect x="891" y="230" width="5" height="10" fill="#ff0000"/>
<rect x="892" y="231" width="3" height="8" fill="#ff4500"/>
<rect x="901" y="192" width="1" height="63" fill="#ff0000"/>
<rect x="899" y="197" width="5" height="33" fill="#ff0000"/>
<rect x="900" y="198" width="3" height="31" fill="#ff4500"/>
<rect x="909" y="183" width="1" height="20" fill="#ff0000"/>
<rect x="907" y="186" width="5" height="12" fill="#ff0000"/>
<rect x="908" y="187" width="3" height="10" fill="#ff4500"/>
<rect x="917" y="179" width="1" height="52" fill="#32cd32"/>
<rect x="915" y="183" width="5" height="37" fill="#32cd32"/>
<rect x="925" y="214" width="1" height="14" fill="#32cd32"/>
<rect x="923" y="217" width="5" height="10" fill="#32cd32"/>
<rect x="933" y="227" width="1" height="32" fill="#32cd32"/>
<rect x="931" y="239" width="5" height="20" fill="#32cd32"/>
<rect x="941" y="224" width="1" height="62" fill="#32cd32"/>
<rect x="939" y="257" width="5" height="5" fill="#32cd32"/>
<rect x="949" y="253" width="1" height="54" fill="#ff0000"/>
<rect x="947" y="260" width="5" height="5" fill="#ff0000"/>
<rect x="948" y="261" width="3" height="3" fill="#ff4500"/>
<rect x="957" y="252" width="1" height="17" fill="#32cd32"/>
<rect x="955" y="262" width="5" height="6" fill="#32cd32"/>
<rect x="965" y="255" width="1" height="37" fill="#32cd32"/>
<rect x="963" y="267" width="5" height="24" fill="#32cd32"/>
<rect x="973" y="283" width="1" height="17" fill="#32cd32"/>
<rect x="971" y="291" width="5" height="6" fill="#32cd32"/>
<rect x="981" y="269" width="1" height="45" fill="#ff0000"/>
<rect x="979" y="274" width="5" height="27" fill="#ff0000"/>
<rect x="980" y="275" width="3" height="25" fill="#ff4500"/>
<rect x="989" y="237" width="1" height="45" fill="#ff0000"/>
<rect x="987" y="263" width="5" height="12" fill="#ff0000"/>
<rect x="988" y="264" width="3" height="10" fill="#ff4500"/>
<rect x="997" y="258" width="1" height="36" fill="#32cd32"/>
<rect x="995" y="264" width="5" height="27" fill="#32cd32"/>
<rect x="1005" y="286" width="1" height="18" fill="#32cd32"/>
<rect x="1003" y="290" width="5" height="13" fill="#32cd32"/>
<rect x="1013" y="300" width="1" height="44" fill="#32cd32"/>
<rect x="1011" y="305" width="5" height="33" fill="#32cd32"/>
<rect x="1021" y="322" width="1" height="27" fill="#ff0000"/>
<rect x="1019" y="327" width="5" height="11" fill="#ff0000"/>
<rect x="1020" y="328" width="3" height="9" fill="#ff4500"/>
<rect x="658" y="181" width="479" height="2" fill="#ff2020"/>
<rect x="750" y="287" width="350" height="2" fill="#94c800"/>
<rect x="776" y="350" width="334" height="2" fill="#2088e0"/>
<rect x="2" y="31" width="2" height="459" fill="#fff"/>
<rect x="4" y="31" width="1" height="459" fill="#000"/>
<path d="M45 517h1v1h-1zM43 518h2v1h-2zM46 518h1v1h-1zM41 519h2v1h-2zM46 519h1v1h-1zM389 519h2v1h-2zM39 520h2v1h-2zM47 520h1v1h-1zM388 520h1v1h-1zM391 520h2v1h-2zM548 520h2v1h-2zM28 521h11v1h-11zM47 521h1v1h-1zM387 521h1v1h-1zM393 521h2v1h-2zM544 521h4v1h-4zM549 521h1v1h-1zM24 522h4v1h-4zM48 522h1v1h-1zM386 522h1v1h-1zM395 522h2v1h-2zM538 522h6v1h-6zM550 522h1v1h-1zM20 523h4v1h-4zM49 523h1v1h-1zM384 523h2v1h-2zM397 523h5v1h-5zM532 523h6v1h-6zM550 523h1v1h-1zM16 524h4v1h-4zM49 524h1v1h-1zM372 524h4v1h-4zM383 524h1v1h-1zM402 524h4v1h-4zM461 524h2v1h-2zM506 524h8v1h-8zM528 524h4v1h-4zM551 524h1v1h-1zM12 525h4v1h-4zM50 525h1v1h-1zM368 525h4v1h-4zM376 525h4v1h-4zM382 525h1v1h-1zM406 525h1v1h-1zM459 525h2v1h-2zM463 525h2v1h-2zM498 525h8v1h-8zM514 525h14v1h-14zM551 525h1v1h-1zM8 526h4v1h-4zM51 526h1v1h-1zM364 526h4v1h-4zM380 526h2v1h-2zM407 526h1v1h-1zM457 526h2v1h-2zM465 526h2v1h-2zM482 526h16v1h-16zM552 526h1v1h-1zM5 527h3v1h-3zM51 527h1v1h-1zM93 527h1v1h-1zM360 527h4v1h-4zM408 527h1v1h-1zM426 527h5v1h-5zM455 527h2v1h-2zM467 527h2v1h-2zM474 527h8v1h-8zM552 527h1v1h-1zM629 527h1v1h-1zM52 528h1v1h-1zM91 528h2v1h-2zM94 528h1v1h-1zM356 528h4v1h-4zM409 528h1v1h-1zM421 528h5v1h-5zM431 528h3v1h-3zM453 528h2v1h-2zM469 528h5v1h-5zM553 528h1v1h-1zM627 528h2v1h-2zM630 528h2v1h-2zM52 529h1v1h-1zM90 529h1v1h-1zM94 529h1v1h-1zM338 529h8v1h-8zM352 529h4v1h-4zM409 529h1v1h-1zM419 529h2v1h-2zM434 529h2v1h-2zM451 529h2v1h-2zM553 529h1v1h-1zM625 529h2v1h-2zM632 529h2v1h-2zM53 530h2v1h-2zM88 530h2v1h-2zM95 530h1v1h-1zM308 530h12v1h-12zM332 530h6v1h-6zM346 530h6v1h-6zM410 530h1v1h-1zM418 530h1v1h-1zM436 530h4v1h-4zM449 530h2v1h-2zM554 530h1v1h-1zM613 530h5v1h-5zM623 530h2v1h-2zM634 530h1v1h-1zM740 530h2v1h-2zM55 531h3v1h-3zM86 531h2v1h-2zM96 531h1v1h-1zM188 531h6v1h-6zM202 531h5v1h-5zM236 531h4v1h-4zM304 531h4v1h-4zM320 531h4v1h-4zM328 531h4v1h-4zM411 531h1v1h-1zM416 531h2v1h-2zM440 531h4v1h-4zM447 531h2v1h-2zM554 531h1v1h-1zM611 531h2v1h-2zM618 531h5v1h-5zM635 531h2v1h-2zM736 531h4v1h-4zM742 531h2v1h-2zM757 531h3v1h-3zM58 532h2v1h-2zM84 532h2v1h-2zM97 532h1v1h-1zM133 532h3v1h-3zM184 532h4v1h-4zM194 532h8v1h-8zM207 532h2v1h-2zM232 532h4v1h-4zM240 532h4v1h-4zM300 532h4v1h-4zM324 532h4v1h-4zM412 532h1v1h-1zM414 532h2v1h-2zM444 532h3v1h-3zM555 532h1v1h-1zM610 532h1v1h-1zM637 532h3v1h-3zM714 532h5v1h-5zM732 532h4v1h-4zM744 532h1v1h-1zM755 532h2v1h-2zM760 532h4v1h-4zM60 533h14v1h-14zM80 533h4v1h-4zM97 533h1v1h-1zM131 533h2v1h-2zM136 533h4v1h-4zM156 533h6v1h-6zM178 533h6v1h-6zM209 533h2v1h-2zM228 533h4v1h-4zM244 533h6v1h-6zM296 533h4v1h-4zM413 533h1v1h-1zM555 533h1v1h-1zM608 533h2v1h-2zM640 533h4v1h-4zM709 533h5v1h-5zM719 533h3v1h-3zM730 533h2v1h-2zM745 533h1v1h-1zM754 533h1v1h-1zM764 533h2v1h-2zM908 533h2v1h-2zM74 534h6v1h-6zM98 534h1v1h-1zM129 534h2v1h-2zM140 534h6v1h-6zM152 534h4v1h-4zM162 534h16v1h-16zM211 534h2v1h-2zM224 534h4v1h-4zM250 534h8v1h-8zM292 534h4v1h-4zM556 534h1v1h-1zM606 534h2v1h-2zM644 534h3v1h-3zM684 534h3v1h-3zM707 534h2v1h-2zM722 534h2v1h-2zM727 534h3v1h-3zM746 534h2v1h-2zM752 534h2v1h-2zM766 534h1v1h-1zM904 534h4v1h-4zM910 534h2v1h-2zM99 535h1v1h-1zM127 535h2v1h-2zM146 535h6v1h-6zM213 535h11v1h-11zM258 535h8v1h-8zM288 535h4v1h-4zM556 535h1v1h-1zM604 535h2v1h-2zM647 535h3v1h-3zM682 535h2v1h-2zM687 535h2v1h-2zM705 535h2v1h-2zM724 535h3v1h-3zM748 535h1v1h-1zM750 535h2v1h-2zM766 535h1v1h-1zM901 535h3v1h-3zM912 535h2v1h-2zM100 536h1v1h-1zM124 536h3v1h-3zM266 536h22v1h-22zM557 536h1v1h-1zM602 536h2v1h-2zM650 536h2v1h-2zM679 536h3v1h-3zM689 536h2v1h-2zM703 536h2v1h-2zM749 536h1v1h-1zM767 536h1v1h-1zM899 536h2v1h-2zM914 536h1v1h-1zM100 537h1v1h-1zM122 537h2v1h-2zM557 537h1v1h-1zM599 537h3v1h-3zM652 537h4v1h-4zM676 537h3v1h-3zM691 537h2v1h-2zM698 537h5v1h-5zM767 537h1v1h-1zM821 537h2v1h-2zM897 537h2v1h-2zM915 537h2v1h-2zM101 538h3v1h-3zM119 538h3v1h-3zM558 538h1v1h-1zM581 538h18v1h-18zM656 538h4v1h-4zM674 538h2v1h-2zM693 538h5v1h-5zM768 538h1v1h-1zM820 538h1v1h-1zM823 538h3v1h-3zM858 538h16v1h-16zM895 538h2v1h-2zM917 538h5v1h-5zM104 539h4v1h-4zM114 539h5v1h-5zM559 539h1v1h-1zM580 539h1v1h-1zM660 539h6v1h-6zM671 539h3v1h-3zM768 539h1v1h-1zM819 539h1v1h-1zM826 539h2v1h-2zM853 539h5v1h-5zM874 539h6v1h-6zM892 539h3v1h-3zM922 539h5v1h-5zM108 540h6v1h-6zM560 540h2v1h-2zM579 540h1v1h-1zM666 540h5v1h-5zM769 540h1v1h-1zM818 540h1v1h-1zM828 540h3v1h-3zM851 540h2v1h-2zM880 540h4v1h-4zM888 540h4v1h-4zM927 540h2v1h-2zM562 541h1v1h-1zM578 541h1v1h-1zM769 541h1v1h-1zM817 541h1v1h-1zM831 541h2v1h-2zM849 541h2v1h-2zM884 541h4v1h-4zM929 541h2v1h-2zM988 541h3v1h-3zM563 542h1v1h-1zM576 542h2v1h-2zM770 542h1v1h-1zM816 542h1v1h-1zM833 542h2v1h-2zM847 542h2v1h-2zM931 542h2v1h-2zM984 542h4v1h-4zM991 542h3v1h-3zM564 543h1v1h-1zM575 543h1v1h-1zM770 543h1v1h-1zM815 543h1v1h-1zM835 543h2v1h-2zM842 543h5v1h-5zM933 543h21v1h-21zM981 543h3v1h-3zM994 543h2v1h-2zM565 544h5v1h-5zM574 544h1v1h-1zM771 544h1v1h-1zM797 544h5v1h-5zM814 544h1v1h-1zM837 544h5v1h-5zM954 544h5v1h-5zM979 544h2v1h-2zM996 544h4v1h-4zM570 545h4v1h-4zM771 545h1v1h-1zM795 545h2v1h-2zM802 545h12v1h-12zM959 545h3v1h-3zM978 545h1v1h-1zM1000 545h4v1h-4zM772 546h1v1h-1zM794 546h1v1h-1zM962 546h2v1h-2zM976 546h2v1h-2zM1004 546h3v1h-3zM772 547h1v1h-1zM792 547h2v1h-2zM964 547h6v1h-6zM974 547h2v1h-2zM1007 547h2v1h-2zM773 548h1v1h-1zM790 548h2v1h-2zM970 548h4v1h-4zM1009 548h2v1h-2zM1020 548h2v1h-2zM774 549h2v1h-2zM789 549h1v1h-1zM1011 549h2v1h-2zM1016 549h4v1h-4zM776 550h2v1h-2zM787 550h2v1h-2zM1013 550h3v1h-3zM778 551h1v1h-1zM785 551h2v1h-2zM779 552h2v1h-2zM783 552h2v1h-2zM781 553h2v1h-2z" fill="#1e90ff"/>
</g>
<path d="M8 50 H60 V74 H117 V114 H8 Z" fill="url(#rg)"/>
<path d="M175 50 H227 V114 H119 V74 H175 Z" fill="url(#rg)"/>
<rect x="12" y="73" width="44" height="1" fill="#8a0000" shape-rendering="crispEdges"/>
<rect x="179" y="73" width="44" height="1" fill="#8a0000" shape-rendering="crispEdges"/>
<rect x="12" y="74" width="44" height="1" fill="#ee5a5a" shape-rendering="crispEdges"/>
<rect x="179" y="74" width="44" height="1" fill="#ee5a5a" shape-rendering="crispEdges"/>
<path d="M8.5 114 V50.5 H59.5 V74.5 M60 74.5 H116.5 V114" fill="none" stroke="#a80c0c" stroke-opacity="0.55" stroke-width="1"/>
<path d="M119.5 114 V74.5 H175.5 V50.5 H226.5 V114" fill="none" stroke="#a80c0c" stroke-opacity="0.55" stroke-width="1"/>
<rect x="62.5" y="50.5" width="110" height="21" fill="#fff" stroke="#aeb0ba" stroke-width="1"/>
<rect x="63.5" y="51.5" width="19" height="19" fill="url(#gg)" stroke="#c8c8d0" stroke-width="1"/>
<rect x="152.5" y="51.5" width="19" height="19" fill="url(#gg)" stroke="#c8c8d0" stroke-width="1"/>
<path d="M70 59.5 H75.2 L72.6 62 Z" fill="#4a5fc8"/>
<path d="M158.8 61.8 H164.2 L161.5 59.3 Z" fill="#4a5fc8"/>
<path d="M8 41 H15 L11.5 37.4 Z" fill="#000"/>
<rect x="48" y="1" width="1" height="25" fill="#a0a0a0" shape-rendering="crispEdges"/>
<rect x="49" y="1" width="1" height="25" fill="#fff" shape-rendering="crispEdges"/>
<rect x="309" y="1" width="1" height="25" fill="#a0a0a0" shape-rendering="crispEdges"/>
<rect x="310" y="1" width="1" height="25" fill="#fff" shape-rendering="crispEdges"/>
<rect x="52" y="4" width="3" height="1" fill="#b4b4b4" shape-rendering="crispEdges"/>
<rect x="52" y="6" width="3" height="1" fill="#b4b4b4" shape-rendering="crispEdges"/>
<rect x="52" y="8" width="3" height="1" fill="#b4b4b4" shape-rendering="crispEdges"/>
<rect x="52" y="10" width="3" height="1" fill="#b4b4b4" shape-rendering="crispEdges"/>
<rect x="52" y="12" width="3" height="1" fill="#b4b4b4" shape-rendering="crispEdges"/>
<rect x="52" y="14" width="3" height="1" fill="#b4b4b4" shape-rendering="crispEdges"/>
<rect x="52" y="16" width="3" height="1" fill="#b4b4b4" shape-rendering="crispEdges"/>
<rect x="52" y="18" width="3" height="1" fill="#b4b4b4" shape-rendering="crispEdges"/>
<rect x="52" y="20" width="3" height="1" fill="#b4b4b4" shape-rendering="crispEdges"/>
<rect x="52" y="22" width="3" height="1" fill="#b4b4b4" shape-rendering="crispEdges"/>
<rect x="0" y="8" width="1" height="1" fill="#909090" shape-rendering="crispEdges"/>
<rect x="0" y="10" width="1" height="1" fill="#909090" shape-rendering="crispEdges"/>
<rect x="0" y="12" width="1" height="1" fill="#909090" shape-rendering="crispEdges"/>
<rect x="0" y="14" width="1" height="1" fill="#909090" shape-rendering="crispEdges"/>
<rect x="0" y="16" width="1" height="1" fill="#909090" shape-rendering="crispEdges"/>
<rect x="0" y="18" width="1" height="1" fill="#909090" shape-rendering="crispEdges"/>
<path d="M37 12.7 H42.2 L39.6 16 Z" fill="#000"/>
<path d="M15.9 11.2 L19.4 7.8 L22.9 11.2 L19.4 13 Z M23.2 17.6 L26.7 15.9 L30.2 17.6 L26.7 21 Z" fill="#505050"/>
<path d="M18.4 15.4 L20.7 17.5 L24.8 12.7" fill="none" stroke="#505050" stroke-width="1.3"/>
<path d="M1315.3 608.5 V615.5 L1312 612 Z" fill="#a0a0a0"/>
<path d="M1330.5 608.5 V615.5 L1334 612 Z" fill="#a0a0a0"/>
<g font-family="Liberation Sans, sans-serif" font-size="34.8" fill="#fff" stroke="url(#rg)" stroke-width="0.7">
<text transform="translate(54.7 105.4) scale(0.93 1)">18</text>
<text transform="translate(165.7 105.4) scale(0.93 1)">42</text>
</g>
</svg>
<div class="a" style="left:20.2px;top:56px;font-size:11.5px;color:#fff;transform:scaleX(0.94);transform-origin:left top;">SELL</div>
<div class="a" style="left:188.3px;top:56px;font-size:11.5px;color:#fff;transform:scaleX(1.03);transform-origin:left top;">BUY</div>
<div class="a" style="left:124px;top:54.5px;font-size:12px;color:#000;">0.01</div>
<div class="a" style="left:28.1px;top:95.6px;font-size:12.2px;font-weight:bold;color:#fff;">6.85</div>
<div class="a" style="left:138.1px;top:95.6px;font-size:12.2px;font-weight:bold;color:#fff;">6.85</div>
<div class="a" style="left:95px;top:79.6px;font-size:11.5px;font-weight:bold;color:#fff;">8</div>
<div class="a" style="left:206.6px;top:79.6px;font-size:11.5px;font-weight:bold;color:#fff;">0</div>
</body></html>
